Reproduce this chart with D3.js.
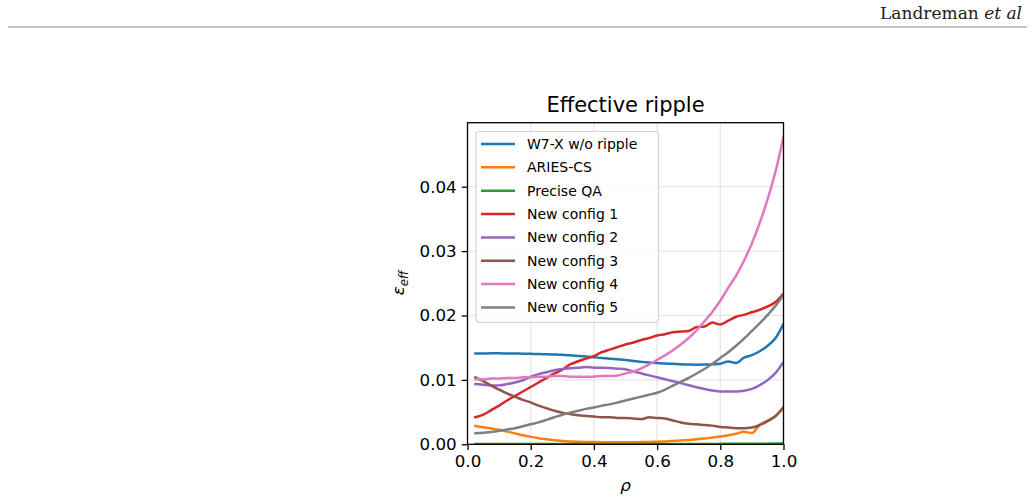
<!DOCTYPE html>
<html>
<head>
<meta charset="utf-8">
<script src="https://cdn.jsdelivr.net/npm/d3@7"></script>
<style>
  body { margin: 0; background: #fff; }
  svg { display: block; font-family: "DejaVu Sans", sans-serif; }
</style>
</head>
<body>
<svg width="1034" height="504"></svg>
<script>
// radial grid shared by all the curves
let rho = [0.025, 0.05, 0.075, 0.1, 0.125, 0.15, 0.175, 0.2, 0.225, 0.25,
           0.275, 0.3, 0.325, 0.35, 0.375, 0.4, 0.425, 0.45, 0.475, 0.5,
           0.525, 0.55, 0.575, 0.6, 0.625, 0.65, 0.675, 0.7, 0.725, 0.75,
           0.775, 0.8, 0.825, 0.85, 0.875, 0.9, 0.925, 0.95, 0.975, 1.0];

let w7x = [0.01410, 0.01411, 0.01412, 0.01412, 0.01411, 0.01410, 0.01408, 0.01405, 0.01402, 0.01399,
           0.01395, 0.01390, 0.01381, 0.01372, 0.01362, 0.01352, 0.01340, 0.01330, 0.01320, 0.01310,
           0.01292, 0.01280, 0.01270, 0.01262, 0.01255, 0.01250, 0.01242, 0.01238, 0.01236, 0.01238,
           0.01242, 0.01250, 0.01285, 0.01262, 0.01345, 0.01385, 0.01445, 0.01530, 0.01650, 0.01870];

let aries = [0.00284, 0.00265, 0.00245, 0.00225, 0.00198, 0.00170, 0.00140, 0.00115, 0.00095, 0.00078,
             0.00062, 0.00052, 0.00045, 0.00040, 0.00037, 0.00035, 0.00033, 0.00032, 0.00032, 0.00032,
             0.00033, 0.00034, 0.00036, 0.00040, 0.00045, 0.00052, 0.00060, 0.00068, 0.00078, 0.00090,
             0.00105, 0.00120, 0.00140, 0.00165, 0.00196, 0.00175, 0.00305, 0.00370, 0.00440, 0.00560];

let preciseQA = [0.00005, 0.00005, 0.00005, 0.00005, 0.00005, 0.00005, 0.00005, 0.00005, 0.00005, 0.00005,
                 0.00005, 0.00005, 0.00005, 0.00005, 0.00005, 0.00005, 0.00005, 0.00005, 0.00005, 0.00005,
                 0.00005, 0.00005, 0.00005, 0.00005, 0.00005, 0.00005, 0.00005, 0.00006, 0.00006, 0.00006,
                 0.00006, 0.00007, 0.00007, 0.00007, 0.00008, 0.00008, 0.00009, 0.00010, 0.00011, 0.00012];

let config1 = [0.0042, 0.0046, 0.0053, 0.0060, 0.0068, 0.0075, 0.0082, 0.0089, 0.0096, 0.0103,
               0.0110, 0.0116, 0.0124, 0.0129, 0.0133, 0.0137, 0.0143, 0.0147, 0.0151, 0.0155,
               0.0158, 0.0162, 0.0165, 0.0169, 0.0171, 0.0174, 0.0175, 0.0176, 0.0182, 0.0183,
               0.0189, 0.0186, 0.0192, 0.0198, 0.0201, 0.0205, 0.0209, 0.0214, 0.0221, 0.0234];

let config2 = [0.00936, 0.00925, 0.00912, 0.00915, 0.00935, 0.00960, 0.00995, 0.01050, 0.01090, 0.01120,
               0.01150, 0.01170, 0.01180, 0.01190, 0.01200, 0.01190, 0.01190, 0.01185, 0.01175, 0.01165,
               0.01130, 0.01100, 0.01070, 0.01040, 0.01010, 0.00980, 0.00950, 0.00918, 0.00885, 0.00858,
               0.00835, 0.00820, 0.00820, 0.00820, 0.00830, 0.00860, 0.00920, 0.01000, 0.01110, 0.01280];

let config3 = [0.0104, 0.0098, 0.0091, 0.0085, 0.0079, 0.0074, 0.0069, 0.0065, 0.0060, 0.0056,
               0.0052, 0.0049, 0.0047, 0.0045, 0.0044, 0.0043, 0.0042, 0.0042, 0.0041, 0.0041,
               0.0040, 0.0039, 0.0042, 0.0041, 0.0040, 0.0037, 0.0034, 0.0032, 0.0031, 0.0030,
               0.0029, 0.0027, 0.0026, 0.0025, 0.0025, 0.0026, 0.0030, 0.0036, 0.0044, 0.0058];

let config4 = [0.0101, 0.0101, 0.0102, 0.0102, 0.0103, 0.0103, 0.0104, 0.0104, 0.0105, 0.0105,
               0.0106, 0.0106, 0.0105, 0.0105, 0.0105, 0.0105, 0.0106, 0.0106, 0.0107, 0.0110,
               0.0113, 0.0118, 0.0124, 0.0131, 0.0138, 0.0146, 0.0155, 0.0165, 0.0177, 0.0191,
               0.0206, 0.0223, 0.0243, 0.0262, 0.0285, 0.0312, 0.0344, 0.0381, 0.0424, 0.0477];

let config5 = [0.0017, 0.0018, 0.0019, 0.0021, 0.0023, 0.0025, 0.0028, 0.0031, 0.0034, 0.0038,
               0.0042, 0.0046, 0.0049, 0.0052, 0.0055, 0.0057, 0.0060, 0.0062, 0.0065, 0.0068,
               0.0071, 0.0074, 0.0077, 0.0080, 0.0085, 0.0091, 0.0097, 0.0103, 0.0110, 0.0117,
               0.0125, 0.0134, 0.0143, 0.0153, 0.0164, 0.0176, 0.0188, 0.0201, 0.0215, 0.0232];

let names = ["W7-X w/o ripple", "ARIES-CS", "Precise QA", "New config 1",
             "New config 2", "New config 3", "New config 4", "New config 5"];
let colors = ["#1f77b4", "#ff7f0e", "#2ca02c", "#d62728", "#9467bd", "#8c564b", "#e377c2", "#7f7f7f"];
let seriesValues = [w7x, aries, preciseQA, config1, config2, config3, config4, config5];

let xTicks = [0, 0.2, 0.4, 0.6, 0.8, 1.0];
let yTicks = [0, 0.01, 0.02, 0.03, 0.04];

let svg = d3.select("svg");

// page header
svg.append("text")
    .attr("x", 1022).attr("y", 19)
    .attr("text-anchor", "end")
    .style("font-family", "'DejaVu Serif', serif")
    .style("font-size", "17px")
    .style("fill", "#222")
    .html("Landreman <tspan font-style='italic'>et al</tspan>");
svg.append("line")
    .attr("x1", 8).attr("x2", 1027).attr("y1", 27).attr("y2", 27)
    .style("stroke", "#888").style("stroke-width", 1);

// axes box
let axLeft = 467.5, axRight = 783.5, axTop = 122.7, axBottom = 444.3;

let x = d3.scaleLinear().domain([0, 1]).range([axLeft, axRight]);
let y = d3.scaleLinear().domain([0, 0.04994]).range([axBottom, axTop]);

// grid
svg.append("g").selectAll("line")
    .data(xTicks).join("line")
    .attr("x1", d => x(d)).attr("x2", d => x(d))
    .attr("y1", axTop).attr("y2", axBottom)
    .style("stroke", "#b0b0b0").style("stroke-opacity", 0.3).style("stroke-width", 1.3);
svg.append("g").selectAll("line")
    .data(yTicks).join("line")
    .attr("x1", axLeft).attr("x2", axRight)
    .attr("y1", d => y(d)).attr("y2", d => y(d))
    .style("stroke", "#b0b0b0").style("stroke-opacity", 0.3).style("stroke-width", 1.3);

svg.append("clipPath").attr("id", "clip")
    .append("rect").attr("x", axLeft).attr("y", axTop)
    .attr("width", axRight - axLeft).attr("height", axBottom - axTop);

let line = d3.line()
    .x((d, i) => x(rho[i]))
    .y(d => y(d))
    .curve(d3.curveMonotoneX);

svg.append("g").attr("clip-path", "url(#clip)")
    .selectAll("path")
    .data(seriesValues).join("path")
    .attr("d", d => line(d))
    .style("fill", "none")
    .style("stroke", (d, i) => colors[i])
    .style("stroke-width", 2.5)
    .style("stroke-linejoin", "round")
    .style("stroke-linecap", "square");

// axes
let xAxis = d3.axisBottom(x).tickValues(xTicks).tickFormat(d3.format(".1f"))
    .tickSize(5.8).tickPadding(5);
let yAxis = d3.axisLeft(y).tickValues(yTicks).tickFormat(d3.format(".2f"))
    .tickSize(5.8).tickPadding(5);

let gx = svg.append("g").attr("transform", "translate(0," + axBottom + ")").call(xAxis);
let gy = svg.append("g").attr("transform", "translate(" + axLeft + ",0)").call(yAxis);
[gx, gy].forEach(g => {
    g.select(".domain").remove();
    g.selectAll(".tick line").style("stroke", "#000").style("stroke-width", 1.3);
    g.selectAll(".tick text")
        .style("font-family", "'DejaVu Sans', sans-serif")
        .style("font-size", "16.7px").style("fill", "#000");
});

svg.append("rect")
    .attr("x", axLeft).attr("y", axTop)
    .attr("width", axRight - axLeft).attr("height", axBottom - axTop)
    .style("fill", "none").style("stroke", "#000").style("stroke-width", 1.3);

// title and labels
svg.append("text")
    .attr("x", (axLeft + axRight) / 2).attr("y", 112)
    .attr("text-anchor", "middle")
    .style("font-size", "21px")
    .text("Effective ripple");

svg.append("text")
    .attr("x", (axLeft + axRight) / 2).attr("y", 491)
    .attr("text-anchor", "middle")
    .style("font-size", "16.7px").style("font-style", "italic")
    .text("ρ");

svg.append("text")
    .attr("transform", "translate(404,283) rotate(-90)")
    .attr("text-anchor", "middle")
    .style("font-size", "16.7px").style("font-style", "italic")
    .html("ε<tspan dy='4' font-size='11.7px'>eff</tspan>");

// legend
let legend = svg.append("g");
legend.append("rect")
    .attr("x", 476).attr("y", 131.5)
    .attr("width", 182.5).attr("height", 190.8)
    .attr("rx", 3)
    .style("fill", "#fff").style("fill-opacity", 0.8)
    .style("stroke", "#d5d5d5").style("stroke-width", 1.2);

let rows = legend.selectAll("g.row")
    .data(names).join("g")
    .attr("class", "row")
    .attr("transform", (d, i) => "translate(0," + (144 + i * 23.35) + ")");
rows.append("line")
    .attr("x1", 481).attr("x2", 515)
    .style("stroke", (d, i) => colors[i]).style("stroke-width", 2.5);
rows.append("text")
    .attr("x", 527).attr("dy", "0.35em")
    .style("font-size", "14px")
    .text(d => d);
</script>
</body>
</html>
